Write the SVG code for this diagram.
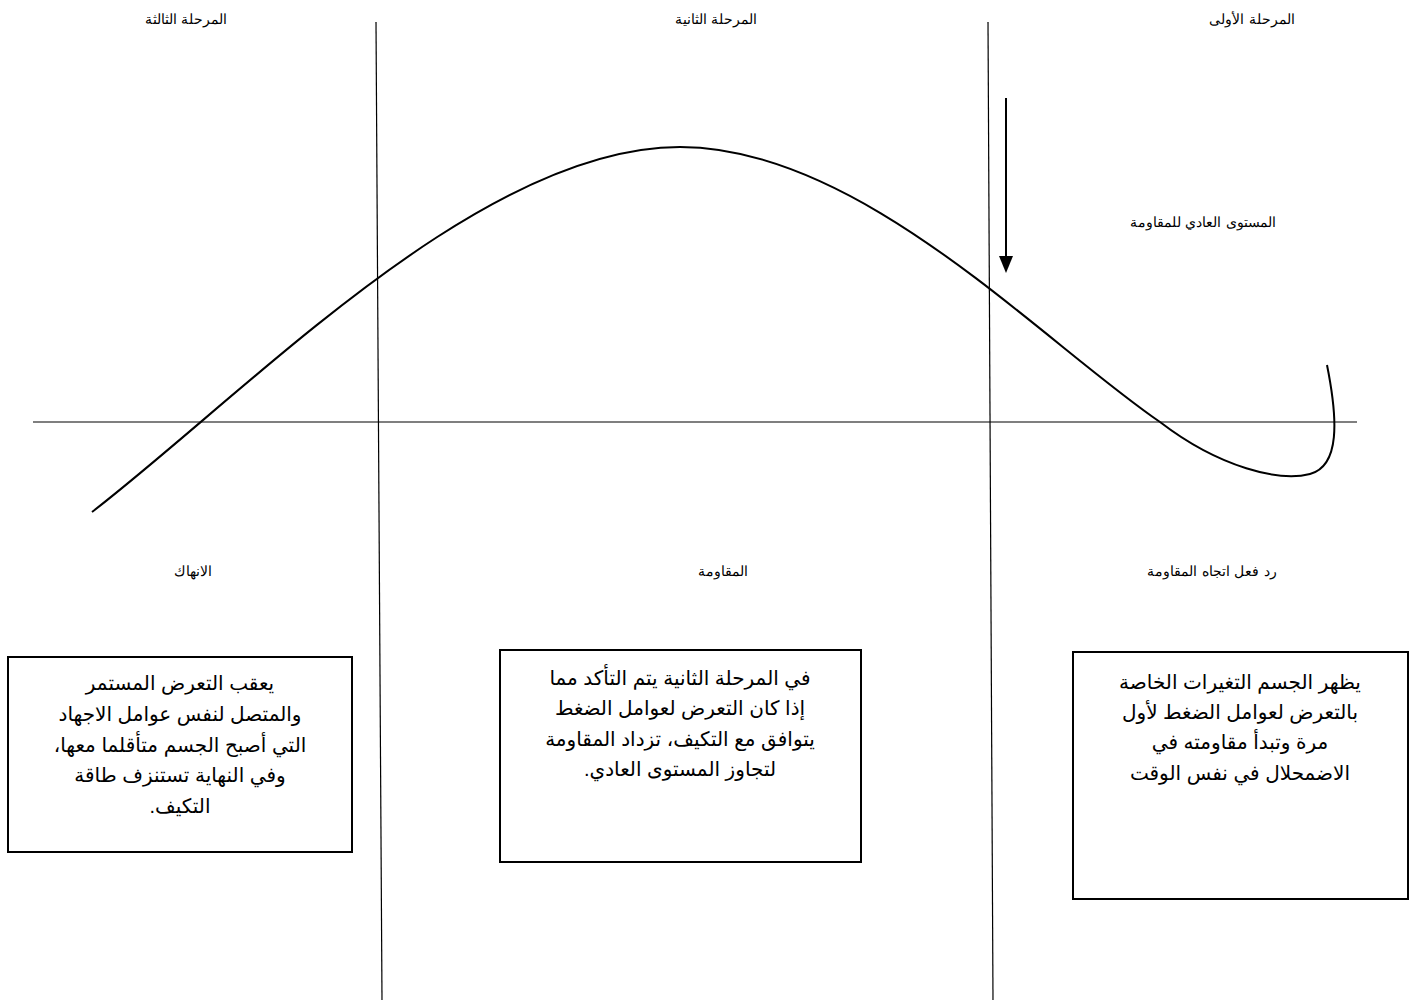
<svg xmlns="http://www.w3.org/2000/svg" width="1416" height="1007" viewBox="0 0 1416 1007">
<style>
.ln{stroke:#000;stroke-width:1.2;fill:none}
.cv{stroke:#000;stroke-width:2;fill:none}
.lbl{font-family:"DejaVu Serif","Liberation Serif",serif;font-size:14px;fill:#000;text-anchor:middle}
.box{fill:#fff;stroke:#000;stroke-width:2}
.bt{font-family:"Liberation Sans","DejaVu Sans",sans-serif;font-size:20px;fill:#000;text-anchor:middle}
</style>
<rect width="1416" height="1007" fill="#fff"/>
<g id="connectors">
<line class="ln" x1="376" y1="22" x2="382" y2="1000"/>
<line class="ln" x1="988" y1="22" x2="993" y2="1000"/>
<line class="ln" x1="33" y1="422" x2="1357" y2="422"/>
<path class="cv" d="M92,512 C250,390 480,147 680,147 C860,147 1040,340 1160,422 C1220,468 1280,482 1310,474 C1340,466 1338,420 1327,365"/>
<line x1="1006" y1="98" x2="1006" y2="258" stroke="#000" stroke-width="2"/>
<path d="M999,256 L1013,256 L1006,273 Z" fill="#000"/>
</g>
<g id="labels">
<text class="lbl" x="1252" y="24" direction="rtl">المرحلة الأولى</text>
<text class="lbl" x="716" y="24" direction="rtl">المرحلة الثانية</text>
<text class="lbl" x="186" y="24" direction="rtl">المرحلة الثالثة</text>
<text class="lbl" x="1203" y="227" direction="rtl">المستوى العادي للمقاومة</text>
<text class="lbl" x="1212" y="576" direction="rtl">رد فعل اتجاه المقاومة</text>
<text class="lbl" x="723" y="576" direction="rtl">المقاومة</text>
<text class="lbl" x="193" y="576" direction="rtl">الانهاك</text>
</g>
<g id="box-stage3">
<rect class="box" x="8" y="657" width="344" height="195"/>
<text class="bt" direction="rtl"><tspan x="180" y="690">يعقب التعرض المستمر</tspan><tspan x="180" y="721">والمتصل لنفس عوامل الاجهاد</tspan><tspan x="180" y="752">التي أصبح الجسم متأقلما معها،</tspan><tspan x="180" y="782">وفي النهاية تستنزف طاقة</tspan><tspan x="180" y="813">التكيف.</tspan></text>
</g>
<g id="box-stage2">
<rect class="box" x="500" y="650" width="361" height="212"/>
<text class="bt" direction="rtl"><tspan x="680" y="685">في المرحلة الثانية يتم التأكد مما</tspan><tspan x="680" y="715">إذا كان التعرض لعوامل الضغط</tspan><tspan x="680" y="746">يتوافق مع التكيف، تزداد المقاومة</tspan><tspan x="680" y="776">لتجاوز المستوى العادي.</tspan></text>
</g>
<g id="box-stage1">
<rect class="box" x="1073" y="652" width="335" height="247"/>
<text class="bt" direction="rtl"><tspan x="1240" y="689">يظهر الجسم التغيرات الخاصة</tspan><tspan x="1240" y="719">بالتعرض لعوامل الضغط لأول</tspan><tspan x="1240" y="749">مرة وتبدأ مقاومته في</tspan><tspan x="1240" y="780">الاضمحلال في نفس الوقت</tspan></text>
</g>
</svg>
